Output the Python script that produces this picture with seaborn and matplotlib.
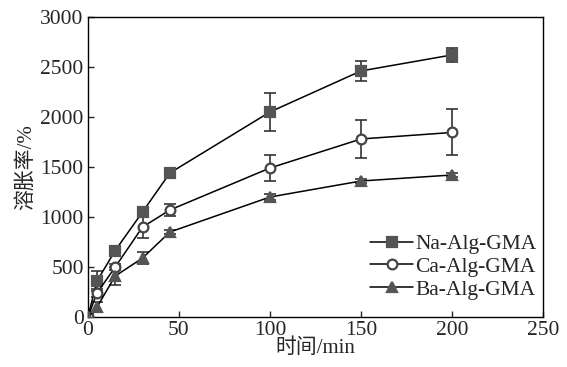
import numpy as np
import pandas as pd
import matplotlib
matplotlib.use("Agg")
import matplotlib.pyplot as plt
import seaborn as sns

# swelling ratio (%) over time (min) for three alginate-GMA gels
time_min = [0, 5, 15, 30, 45, 100, 150, 200]
na_mean = [0, 360, 665, 1050, 1440, 2050, 2460, 2620]
na_err = [0, 100, 30, 30, 25, 190, 100, 70]
ca_mean = [0, 240, 500, 900, 1070, 1490, 1780, 1845]
ca_err = [0, 40, 30, 110, 60, 130, 190, 230]
ba_mean = [0, 100, 410, 590, 850, 1200, 1360, 1420]
ba_err = [0, 50, 90, 60, 20, 30, 20, 20]
series_names = ["Na-Alg-GMA", "Ca-Alg-GMA", "Ba-Alg-GMA"]
x_ticks = [0, 50, 100, 150, 200, 250]
y_ticks = [0, 500, 1000, 1500, 2000, 2500, 3000]

sns.set_style("ticks")
plt.rcParams["font.family"] = ["Liberation Serif", "Noto Sans CJK SC"]
plt.rcParams["axes.unicode_minus"] = False

frames = []
for name, mean in zip(series_names, [na_mean, ca_mean, ba_mean]):
    frames.append(pd.DataFrame({"time": time_min, "swell": mean, "sample": name}))
df = pd.concat(frames, ignore_index=True)

fig = plt.figure(figsize=(5.67, 3.67), dpi=100)
ax = fig.add_axes([0.155, 0.136, 0.803, 0.818])

marker_grey = "#555555"
styles = {
    "Na-Alg-GMA": dict(marker="s", mfc=marker_grey, mec=marker_grey),
    "Ca-Alg-GMA": dict(marker="o", mfc="white", mec="#444444"),
    "Ba-Alg-GMA": dict(marker="^", mfc=marker_grey, mec=marker_grey),
}
errs = {"Na-Alg-GMA": na_err, "Ca-Alg-GMA": ca_err, "Ba-Alg-GMA": ba_err}

for name in series_names:
    sub = df[df["sample"] == name]
    ax.errorbar(sub["time"], sub["swell"], yerr=errs[name], fmt="none",
                ecolor="#333333", elinewidth=1.2, capsize=4.5, capthick=1.2, zorder=2)
    sns.lineplot(data=sub, x="time", y="swell", ax=ax, color="black", lw=1.1,
                 marker=styles[name]["marker"], markersize=7,
                 markerfacecolor=styles[name]["mfc"],
                 markeredgecolor=styles[name]["mec"], markeredgewidth=1.6,
                 label=name, zorder=3, errorbar=None)

ax.set_xlim(0, 250)
ax.set_ylim(0, 3000)
ax.set_xticks(x_ticks)
ax.set_yticks(y_ticks)
ax.tick_params(direction="in", length=4, width=1, labelsize=15.5,
               top=False, right=False, pad=3)
for sp in ax.spines.values():
    sp.set_visible(True)
    sp.set_linewidth(1.0)
    sp.set_color("black")

ax.set_xlabel("时间/min", fontsize=15, labelpad=-1)
ax.set_ylabel("溶胀率/%", fontsize=15, labelpad=3)

leg = ax.legend(loc="lower right", bbox_to_anchor=(1.019, 0.008), frameon=False,
                fontsize=15.5, handlelength=2.0, handletextpad=0.1,
                labelspacing=0.12, borderaxespad=0.3)

fig.savefig("out.png", dpi=100)
